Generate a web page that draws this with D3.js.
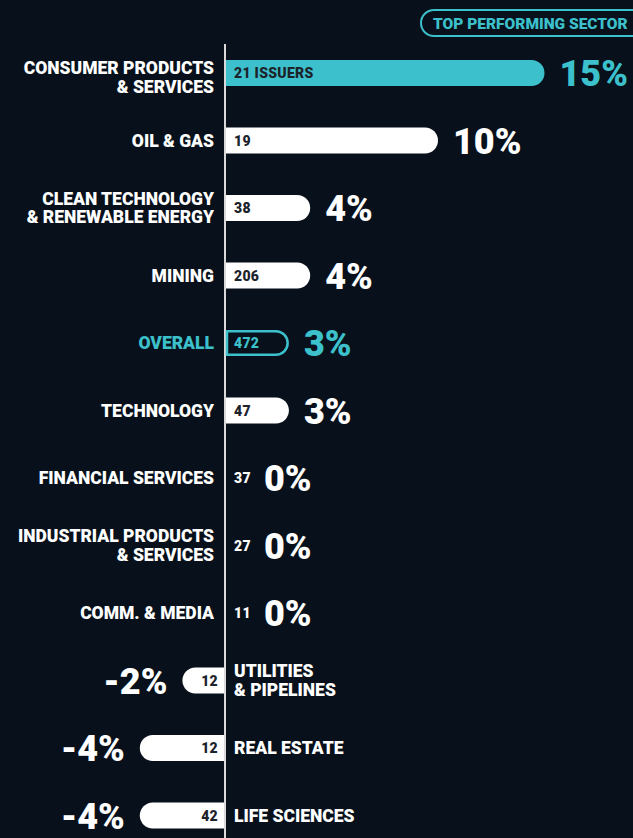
<!DOCTYPE html>
<html>
<head>
<meta charset="utf-8">
<script src="https://cdn.jsdelivr.net/npm/d3@7"></script>
<style>
  html, body { margin: 0; padding: 0; background: #08111b; }
  svg { display: block; }
  text { font-family: Roboto, "DejaVu Sans", sans-serif; font-weight: 900; }
</style>
</head>
<body>
<svg id="chart" width="633" height="838"></svg>
<script>
const sectors = [
  ["CONSUMER PRODUCTS", "& SERVICES"],
  ["OIL & GAS"],
  ["CLEAN TECHNOLOGY", "& RENEWABLE ENERGY"],
  ["MINING"],
  ["OVERALL"],
  ["TECHNOLOGY"],
  ["FINANCIAL SERVICES"],
  ["INDUSTRIAL PRODUCTS", "& SERVICES"],
  ["COMM. & MEDIA"],
  ["UTILITIES", "& PIPELINES"],
  ["REAL ESTATE"],
  ["LIFE SCIENCES"]
];
const returns = [15, 10, 4, 4, 3, 3, 0, 0, 0, -2, -4, -4];
const issuers = ["21 ISSUERS", "19", "38", "206", "472", "47", "37", "27", "11", "12", "12", "42"];
const highlight = ["top", "", "", "", "overall", "", "", "", "", "", "", ""];
const badgeText = "TOP PERFORMING SECTOR";

const TEAL = "#3cc0cb";
const WHITE = "#ffffff";
const DARK = "#1c232b";

const svg = d3.select("#chart");
const W = 633, H = 838;

const x = d3.scaleLinear().domain([-4, 15]).range([225 - 4 * 21.3, 225 + 15 * 21.3]);
const y = d3.scalePoint().domain(d3.range(sectors.length)).range([73, 815.5]);
const barH = 26;
const x0 = x(0);

// axis line
svg.append("line")
  .attr("x1", x0).attr("x2", x0)
  .attr("y1", 44).attr("y2", H)
  .attr("stroke", "#d9d9d9").attr("stroke-width", 2);

// badge
const badge = svg.append("g");
badge.append("rect")
  .attr("x", 421).attr("y", 10).attr("width", 240).attr("height", 26).attr("rx", 13)
  .attr("fill", "none").attr("stroke", TEAL).attr("stroke-width", 2);
badge.append("text")
  .attr("x", 433).attr("y", 28.5)
  .attr("fill", TEAL).attr("font-size", 15.5)
  .text(badgeText);

// bar with one rounded end (away from the axis)
function barPath(v, cy, inset) {
  const t = cy - barH / 2 + inset, b = cy + barH / 2 - inset;
  const rr = (b - t) / 2;
  const xs = x0 + (v >= 0 ? 1 : -1) * (inset > 0 ? 2 : 1);
  const xe = x(v) - (v >= 0 ? inset : -inset);
  if (v >= 0) {
    return `M${xs},${t} L${xe - rr},${t} A${rr},${rr} 0 0 1 ${xe - rr},${b} L${xs},${b} Z`;
  } else {
    return `M${xs},${t} L${xe + rr},${t} A${rr},${rr} 0 0 0 ${xe + rr},${b} L${xs},${b} Z`;
  }
}

const rows = svg.selectAll("g.row").data(d3.range(sectors.length)).join("g").attr("class", "row");

rows.each(function(i) {
  const g = d3.select(this);
  const v = returns[i];
  const cy = y(i);
  const isTop = highlight[i] === "top";
  const isOverall = highlight[i] === "overall";
  const labelColor = isOverall ? TEAL : WHITE;
  const pctColor = (isTop || isOverall) ? TEAL : WHITE;

  if (v !== 0) {
    if (isOverall) {
      g.append("path").attr("d", barPath(v, cy, 1.25))
        .attr("fill", "none").attr("stroke", TEAL).attr("stroke-width", 2.5);
    } else {
      g.append("path").attr("d", barPath(v, cy, 0))
        .attr("fill", isTop ? TEAL : WHITE);
    }
  }

  // sector label
  const lines = sectors[i];
  const lh = 18.5;
  const labelX = v < 0 ? x0 + 9 : x0 - 11;
  const anchor = v < 0 ? "start" : "end";
  const shift = isTop ? 4.5 : 0;
  const lbl = g.append("text")
    .attr("x", labelX).attr("text-anchor", anchor)
    .attr("fill", labelColor).attr("font-size", 17.5);
  lines.forEach((ln, k) => {
    lbl.append("tspan")
      .attr("x", labelX)
      .attr("y", cy + 6.2 + shift + (k - (lines.length - 1) / 2) * lh)
      .text(ln);
  });

  // issuer count
  let cColor = DARK;
  if (isOverall) cColor = TEAL;
  if (v === 0) cColor = WHITE;
  g.append("text")
    .attr("x", v < 0 ? x0 - 7 : x0 + 9)
    .attr("y", cy + 5)
    .attr("text-anchor", v < 0 ? "end" : "start")
    .attr("fill", cColor).attr("font-size", 14)
    .attr("letter-spacing", 0.3)
    .text(issuers[i]);

  // percent label
  let px, pAnchor;
  if (v > 0) { px = x(v) + 15; pAnchor = "start"; }
  else if (v === 0) { px = x0 + 39; pAnchor = "start"; }
  else { px = x(v) - 15; pAnchor = "end"; }
  g.append("text")
    .attr("x", px).attr("y", cy + 13)
    .attr("text-anchor", pAnchor)
    .attr("fill", pctColor).attr("font-size", 36)
    .text(v + "%");
});
</script>
</body>
</html>
